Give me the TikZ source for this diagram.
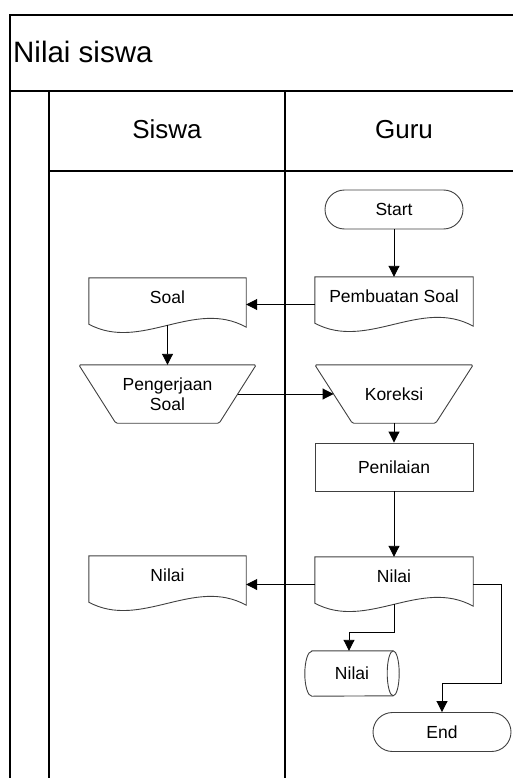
\documentclass[tikz,border=0pt]{standalone}
\usepackage{fontspec}
\setmainfont{Liberation Sans}
\usetikzlibrary{arrows.meta,calc}

% outline of a flowchart "document" node: straight top and sides, wavy bottom
\newcommand\drawdocument[1]{%
  \draw[outline] ($(#1.south west)+(0,-9)$) -- (#1.north west) -- (#1.north east)
    -- ($(#1.south east)+(0,-6)$)
    .. controls ($(#1.south west)!0.67!(#1.south east)+(0,-35)$)
    and ($(#1.south west)!0.33!(#1.south east)+(0,19)$) .. cycle;}
% outline of a "manual operation" node: trapezoid, wide side on top
\newcommand\drawmanual[2]{%
  \draw[outline,rounded corners=1.5pt] (#1.north west) -- (#1.north east)
    -- ($(#1.south east)+(-#2,0)$) -- ($(#1.south west)+(#2,0)$) -- cycle;}
% outline of a "stored data" node: horizontal drum, open end on the right
\newcommand\drawdrum[1]{%
  \draw[outline] ($(#1.north west)+(7,0)$) -- ($(#1.north east)+(-6,0)$)
    arc[start angle=90,end angle=-90,x radius=6pt,y radius=22.5pt]
    -- ($(#1.south west)+(7,0)$)
    arc[start angle=270,end angle=90,x radius=7pt,y radius=22.5pt] -- cycle;
  \draw[outline] ($(#1.north east)+(-6,0)$)
    arc[start angle=90,end angle=270,x radius=6pt,y radius=22.5pt];}

\begin{document}
\begin{tikzpicture}[x=1pt,y=-1pt,
  frame/.style={draw=black,line width=1.2pt},
  outline/.style={draw=black!75,line width=0.9pt},
  lbl/.style={font=\fontsize{17.5}{20}\selectfont,text height=12.5pt,text depth=0pt,
    inner sep=0pt,align=center},
  hdr/.style={font=\fontsize{26}{30}\selectfont,text height=18.6pt,text depth=0pt,inner sep=0pt},
  term/.style={lbl,outline,rectangle,rounded corners=19.5pt,minimum width=138pt,minimum height=39pt},
  proc/.style={lbl,outline,rectangle,minimum width=158pt,minimum height=48pt},
  docbox/.style={lbl,text depth=16pt,minimum width=#1,minimum height=55pt},
  manual/.style={lbl,minimum width=#1,minimum height=58pt},
  store/.style={lbl,minimum width=94pt,minimum height=45pt},
  arr/.style={draw=black,line width=0.9pt,-{Triangle[length=11pt,width=11pt]}},
]
\useasboundingbox (0,0) rectangle (513,778);

% swimlane frame
\draw[frame] (10,778) -- (10,15) -- (513,15);
\draw[frame,line width=2pt] (10,91.5) -- (513,91.5);
\draw[frame] (49,92) -- (49,778);
\draw[frame] (285,92) -- (285,778);
\draw[frame] (49,171) -- (513,171);

\node[anchor=west,inner sep=0pt,font=\fontsize{29.5}{34}\selectfont,text height=21pt,text depth=0pt]
  (title) at (13,52.5) {Nilai siswa};
\node[hdr] (siswa) at (167,129) {Siswa};
\node[hdr] (guru) at (404,129) {Guru};

% flowchart nodes
\node[term] (start) at (394,209.5) {Start};
\node[docbox=158pt] (pemb) at (394,304.5) {Pembuatan Soal};
\node[docbox=157pt] (soal) at (167.5,305.5) {Soal};
\node[manual=177pt,text height=32.5pt] (peng) at (167.5,394) {Pengerjaan\\Soal};
\node[manual=158pt] (kor) at (394,394) {Koreksi};
\node[proc] (pen) at (394,467) {Penilaian};
\node[docbox=158pt] (nilg) at (394,584.5) {Nilai};
\node[docbox=157pt] (nils) at (167.5,583.5) {Nilai};
\node[store] (cyl) at (352,673.5) {Nilai};
\node[term] (end) at (442,732) {End};

\drawdocument{pemb}
\drawdocument{soal}
\drawdocument{nilg}
\drawdocument{nils}
\drawmanual{peng}{37}
\drawmanual{kor}{37.5}
\drawdrum{cyl}

% connectors
\draw[arr] (start.south) -- (pemb.north);
\draw[arr] (pemb.west) -- (pemb.west -| soal.east);
\draw[arr] ([yshift=8pt]soal.south) -- (peng.north);
\draw[arr] ($(peng.east)+(-18.5,0)$) -- ($(kor.west)+(18.75,0)$);
\draw[arr] (kor.south) -- (pen.north);
\draw[arr] (pen.south) -- (nilg.north);
\draw[arr] (nilg.west) -- (nilg.west -| nils.east);
\draw[arr] ([yshift=8pt]nilg.south) -- ++(0,28) -| ($(cyl.north)+(-3,0)$);
\draw[arr] (nilg.east) -- ++(28,0) -- ++(0,98.5) -| (end.north);
\end{tikzpicture}
\end{document}
